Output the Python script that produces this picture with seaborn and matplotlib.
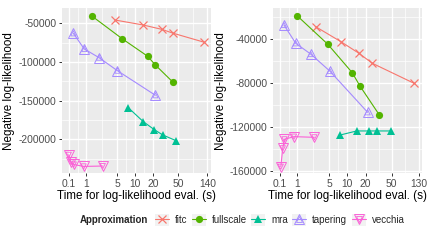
import numpy as np
import pandas as pd
import matplotlib
matplotlib.use("Agg")
import matplotlib.pyplot as plt
import seaborn as sns
from matplotlib.lines import Line2D
from matplotlib.patches import Rectangle
from matplotlib.legend_handler import HandlerTuple

# ---------------- data ----------------
approximations = ["fitc", "fullscale", "mra", "tapering", "vecchia"]

# left panel
left_fitc_x = [4.5, 13.9, 27.5, 41.8, 126]
left_fitc_y = [-45700, -52200, -57800, -62900, -74500]
left_fullscale_x = [1.49, 6.1, 16.4, 21.8, 40.9]
left_fullscale_y = [-41000, -69900, -92600, -103900, -125800]
left_mra_x = [7.8, 13.9, 21.0, 28.5, 46]
left_mra_y = [-159000, -177100, -187500, -194300, -201700]
left_tapering_x = [0.28, 0.88, 2.16, 5.0, 21.8]
left_tapering_y = [-62900, -83200, -94400, -111200, -143000]
left_vecchia_x = [0.09, 0.18, 0.3, 0.84, 2.6]
left_vecchia_y = [-220000, -229500, -232500, -235000, -234500]

# right panel
right_fitc_x = [2.76, 7.97, 15.6, 25.3, 110]
right_fitc_y = [-28800, -42500, -53000, -62100, -80400]
right_fullscale_x = [1.0, 4.7, 12.2, 16.2, 32.5]
right_fullscale_y = [-19000, -44800, -70700, -82800, -109200]
right_mra_x = [7.7, 14.4, 22.2, 30.2, 49.6]
right_mra_y = [-127500, -123800, -123800, -123800, -123800]
right_tapering_x = [0.26, 0.89, 2.16, 5.1, 21.4]
right_tapering_y = [-27200, -43900, -53700, -69200, -106800]
right_vecchia_x = [0.13, 0.21, 0.28, 0.78, 2.58]
right_vecchia_y = [-156400, -139600, -131400, -129000, -129600]

left_xticks = [0.1, 1, 5, 10, 20, 50, 140]
right_xticks = [0.1, 1, 5, 10, 20, 50, 130]
left_yticks = [-200000, -150000, -100000, -50000]
right_yticks = [-160000, -120000, -80000, -40000]

xlabel = "Time for log-likelihood eval. (s)"
ylabel = "Negative log-likelihood"
legend_title = "Approximation"

# ---------------- build frames ----------------
def frame(series):
    rows = []
    for name, xs, ys in series:
        for x, y in zip(xs, ys):
            rows.append({"Approximation": name, "time": x, "nll": y})
    return pd.DataFrame(rows)

left_df = frame([
    ("fitc", left_fitc_x, left_fitc_y),
    ("fullscale", left_fullscale_x, left_fullscale_y),
    ("mra", left_mra_x, left_mra_y),
    ("tapering", left_tapering_x, left_tapering_y),
    ("vecchia", left_vecchia_x, left_vecchia_y),
])
right_df = frame([
    ("fitc", right_fitc_x, right_fitc_y),
    ("fullscale", right_fullscale_x, right_fullscale_y),
    ("mra", right_mra_x, right_mra_y),
    ("tapering", right_tapering_x, right_tapering_y),
    ("vecchia", right_vecchia_x, right_vecchia_y),
])

colors = {"fitc": "#F8766D", "fullscale": "#53B400", "mra": "#00C094",
          "tapering": "#A58AFF", "vecchia": "#FB61D7"}

sns.set_theme(style="white")
plt.rcParams["font.family"] = ["Liberation Sans", "DejaVu Sans"]

W, H = 431, 241
fig = plt.figure(figsize=(W / 100, H / 100), dpi=100)

def fwd(x):
    return np.log10(1 + np.asarray(x, dtype=float))

def inv(u):
    return 10 ** np.asarray(u, dtype=float) - 1

def ax_rect(x0, y0, x1, y1):
    return [x0 / W, 1 - y1 / H, (x1 - x0) / W, (y1 - y0) / H]

LW = 0.8

def draw_series(ax, df):
    for name in approximations:
        d = df[df["Approximation"] == name]
        c = colors[name]
        if name == "fitc":
            sns.lineplot(data=d, x="time", y="nll", ax=ax, color=c, lw=LW,
                         marker="x", markersize=5.5, markeredgewidth=0.9,
                         markeredgecolor=c, estimator=None, legend=False)
        elif name == "fullscale":
            sns.lineplot(data=d, x="time", y="nll", ax=ax, color=c, lw=LW,
                         marker="o", markersize=5.2, markeredgewidth=0,
                         markerfacecolor=c, estimator=None, legend=False)
        elif name == "mra":
            sns.lineplot(data=d, x="time", y="nll", ax=ax, color=c, lw=LW,
                         marker="^", markersize=6.0, markeredgewidth=0,
                         markerfacecolor=c, estimator=None, legend=False)
        else:
            mk = "^" if name == "tapering" else "v"
            sns.lineplot(data=d, x="time", y="nll", ax=ax, color=c, lw=LW,
                         marker=mk, markersize=7.0, markeredgewidth=0.7,
                         markerfacecolor="none", markeredgecolor=c,
                         estimator=None, legend=False)
            sns.scatterplot(data=d, x="time", y="nll", ax=ax, marker=mk,
                            s=14, facecolor="none", edgecolor=c,
                            linewidth=0.6, legend=False, zorder=4)

def style_axes(ax, xticks, xlim, yticks, ylim, ylim_minor):
    ax.set_xscale("function", functions=(fwd, inv))
    ax.set_facecolor("#EBEBEB")
    for s in ax.spines.values():
        s.set_visible(False)
    ax.set_xlim(*xlim)
    ax.set_ylim(*ylim)
    ax.set_xticks(xticks)
    ax.set_xticklabels([("%g" % t) for t in xticks])
    ax.set_yticks(yticks)
    ax.set_yticklabels([str(int(t)) for t in yticks])
    # minor grid
    u = fwd(xticks)
    xminor = inv((u[:-1] + u[1:]) / 2)
    for xm in xminor:
        ax.axvline(xm, color="white", lw=0.5, zorder=0.5)
    for ym in ylim_minor:
        ax.axhline(ym, color="white", lw=0.5, zorder=0.5)
    for xt in xticks:
        ax.axvline(xt, color="white", lw=1.0, zorder=0.6)
    for yt in yticks:
        ax.axhline(yt, color="white", lw=1.0, zorder=0.6)
    ax.tick_params(axis="both", which="major", length=2.5, width=0.7,
                   color="#333333", labelcolor="#4D4D4D", labelsize=7.4,
                   pad=1.5, bottom=True, left=True)
    ax.tick_params(axis="both", which="minor", length=0)
    ax.set_xlabel(xlabel, fontsize=8.4, color="black", labelpad=0.5)
    ax.set_ylabel(ylabel, fontsize=8.4, color="black", labelpad=2.5)

axL = fig.add_axes(ax_rect(62, 8.3, 211, 173.3))
draw_series(axL, left_df)
style_axes(axL, left_xticks, (-0.1398, 159.7), left_yticks,
           (-243900, -30600), [-225000, -175000, -125000, -75000])

axR = fig.add_axes(ax_rect(273.3, 8.3, 421.7, 173.3))
draw_series(axR, right_df)
style_axes(axR, right_xticks, (-0.1265, 142.9), right_yticks,
           (-162400, -12000), [-140000, -100000, -60000, -20000])

# ---------------- legend ----------------
handles = []
for name in approximations:
    c = colors[name]
    bg = Rectangle((0, 0), 1, 1, facecolor="#F2F2F2", edgecolor="none")
    if name == "fitc":
        ln = Line2D([], [], color=c, lw=LW, marker="x", markersize=5.5,
                    markeredgewidth=0.9)
        handles.append((bg, ln))
    elif name == "fullscale":
        ln = Line2D([], [], color=c, lw=LW, marker="o", markersize=5.2,
                    markeredgewidth=0)
        handles.append((bg, ln))
    elif name == "mra":
        ln = Line2D([], [], color=c, lw=LW, marker="^", markersize=6.0,
                    markeredgewidth=0)
        handles.append((bg, ln))
    else:
        mk = "^" if name == "tapering" else "v"
        ln = Line2D([], [], color=c, lw=LW, marker=mk, markersize=7.0,
                    markeredgewidth=0.7, markerfacecolor="none")
        ln2 = Line2D([], [], color=c, lw=0, marker=mk, markersize=3.7,
                     markeredgewidth=0.6, markerfacecolor="none")
        handles.append((bg, ln, ln2))

fig.legend(handles, approximations, handler_map={tuple: HandlerTuple(ndivide=1)},
           loc="center left", bbox_to_anchor=(155 / W, 1 - 220 / H),
           ncol=5, frameon=False, fontsize=7.0, handlelength=1.45,
           handleheight=1.45, handletextpad=0.6, columnspacing=0.45,
           borderpad=0, borderaxespad=0, numpoints=1)
fig.text(80 / W, 1 - 220 / H, legend_title, fontsize=7.0, fontweight="bold",
         ha="left", va="center")

fig.savefig("out.png", dpi=100)
